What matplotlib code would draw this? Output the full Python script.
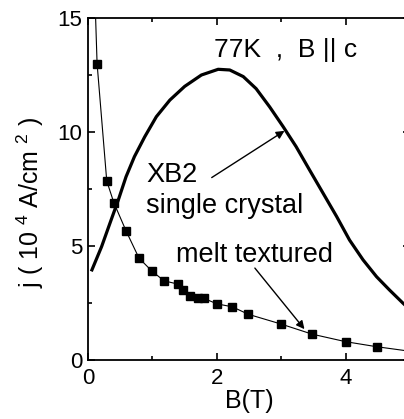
import numpy as np
import matplotlib
matplotlib.use("Agg")
import matplotlib.pyplot as plt
from matplotlib.ticker import MultipleLocator

plt.rcParams['font.family'] = ['Liberation Sans', 'DejaVu Sans']
plt.rcParams['mathtext.default'] = 'regular'

# single crystal XB2 curve (thick line)
b_crystal = [0.06, 0.21, 0.34, 0.47, 0.59, 0.72, 0.88, 1.06, 1.27, 1.50, 1.76,
             2.02, 2.20, 2.41, 2.61, 2.82, 3.03, 3.23, 3.44, 3.65, 3.86, 4.06,
             4.27, 4.48, 4.68, 4.89, 5.0]
j_crystal = [3.95, 4.97, 6.0, 7.02, 8.04, 8.92, 9.79, 10.67, 11.4, 12.0, 12.5,
             12.75, 12.72, 12.43, 11.9, 11.1, 10.23, 9.36, 8.33, 7.31, 6.29, 5.26,
             4.39, 3.65, 3.07, 2.49, 2.2]

# melt textured (squares)
b_melt = [0.14, 0.29, 0.40, 0.59, 0.79, 0.99, 1.18, 1.39, 1.48, 1.58, 1.71,
          1.80, 2.0, 2.24, 2.49, 2.99, 3.48, 4.0, 4.48]
j_melt = [13.0, 7.85, 6.9, 5.66, 4.47, 3.9, 3.47, 3.33, 3.07, 2.8, 2.7,
          2.7, 2.46, 2.33, 2.0, 1.58, 1.13, 0.8, 0.58]

# thin guide line through the squares
b_guide = [0.10] + b_melt + [5.0]
j_guide = [16.5] + j_melt + [0.38]

fig = plt.figure(figsize=(4.04, 4.19), dpi=100)
ax = fig.add_axes([0.218, 0.141, 0.797, 0.816])

ax.plot(b_guide, j_guide, color='black', lw=0.8)
ax.plot(b_melt, j_melt, 's', color='black', ms=5.8)
ax.plot(b_crystal, j_crystal, color='black', lw=2.3, solid_joinstyle='round')

ax.set_xlim(0, 5)
ax.set_ylim(0, 15)
ax.xaxis.set_major_locator(MultipleLocator(2))
ax.xaxis.set_minor_locator(MultipleLocator(1))
ax.yaxis.set_major_locator(MultipleLocator(5))
ax.yaxis.set_minor_locator(MultipleLocator(2.5))
ax.tick_params(which='both', direction='in', top=True, right=True, width=1.2,
               labelsize=16)
ax.tick_params(axis='x', pad=6)
ax.tick_params(axis='y', pad=4)
ax.tick_params(which='major', length=5)
ax.tick_params(which='minor', length=3)
for s in ax.spines.values():
    s.set_linewidth(1.3)

ax.set_xlabel('B(T)', fontsize=18, labelpad=0)
ax.set_ylabel('j ( 10 $^{4}$ A/cm $^{2}$ )', fontsize=18)
ax.yaxis.set_label_coords(-0.13, 0.46)

ax.text(1.95, 13.3, '77K  ,  B || c', fontsize=19)
ax.text(0.9, 7.8, 'XB2', fontsize=19.5)
ax.text(0.9, 6.45, 'single crystal', fontsize=19.5)
ax.text(1.36, 4.3, 'melt textured', fontsize=19.5)

ax.annotate('', xy=(3.05, 10.05), xytext=(1.92, 8.0),
            arrowprops=dict(arrowstyle='-|>', color='black', lw=1.0,
                            mutation_scale=12, shrinkA=0, shrinkB=0))
ax.annotate('', xy=(3.36, 1.35), xytext=(2.59, 4.03),
            arrowprops=dict(arrowstyle='-|>', color='black', lw=1.0,
                            mutation_scale=12, shrinkA=0, shrinkB=0))

fig.savefig('out.png', dpi=100)
